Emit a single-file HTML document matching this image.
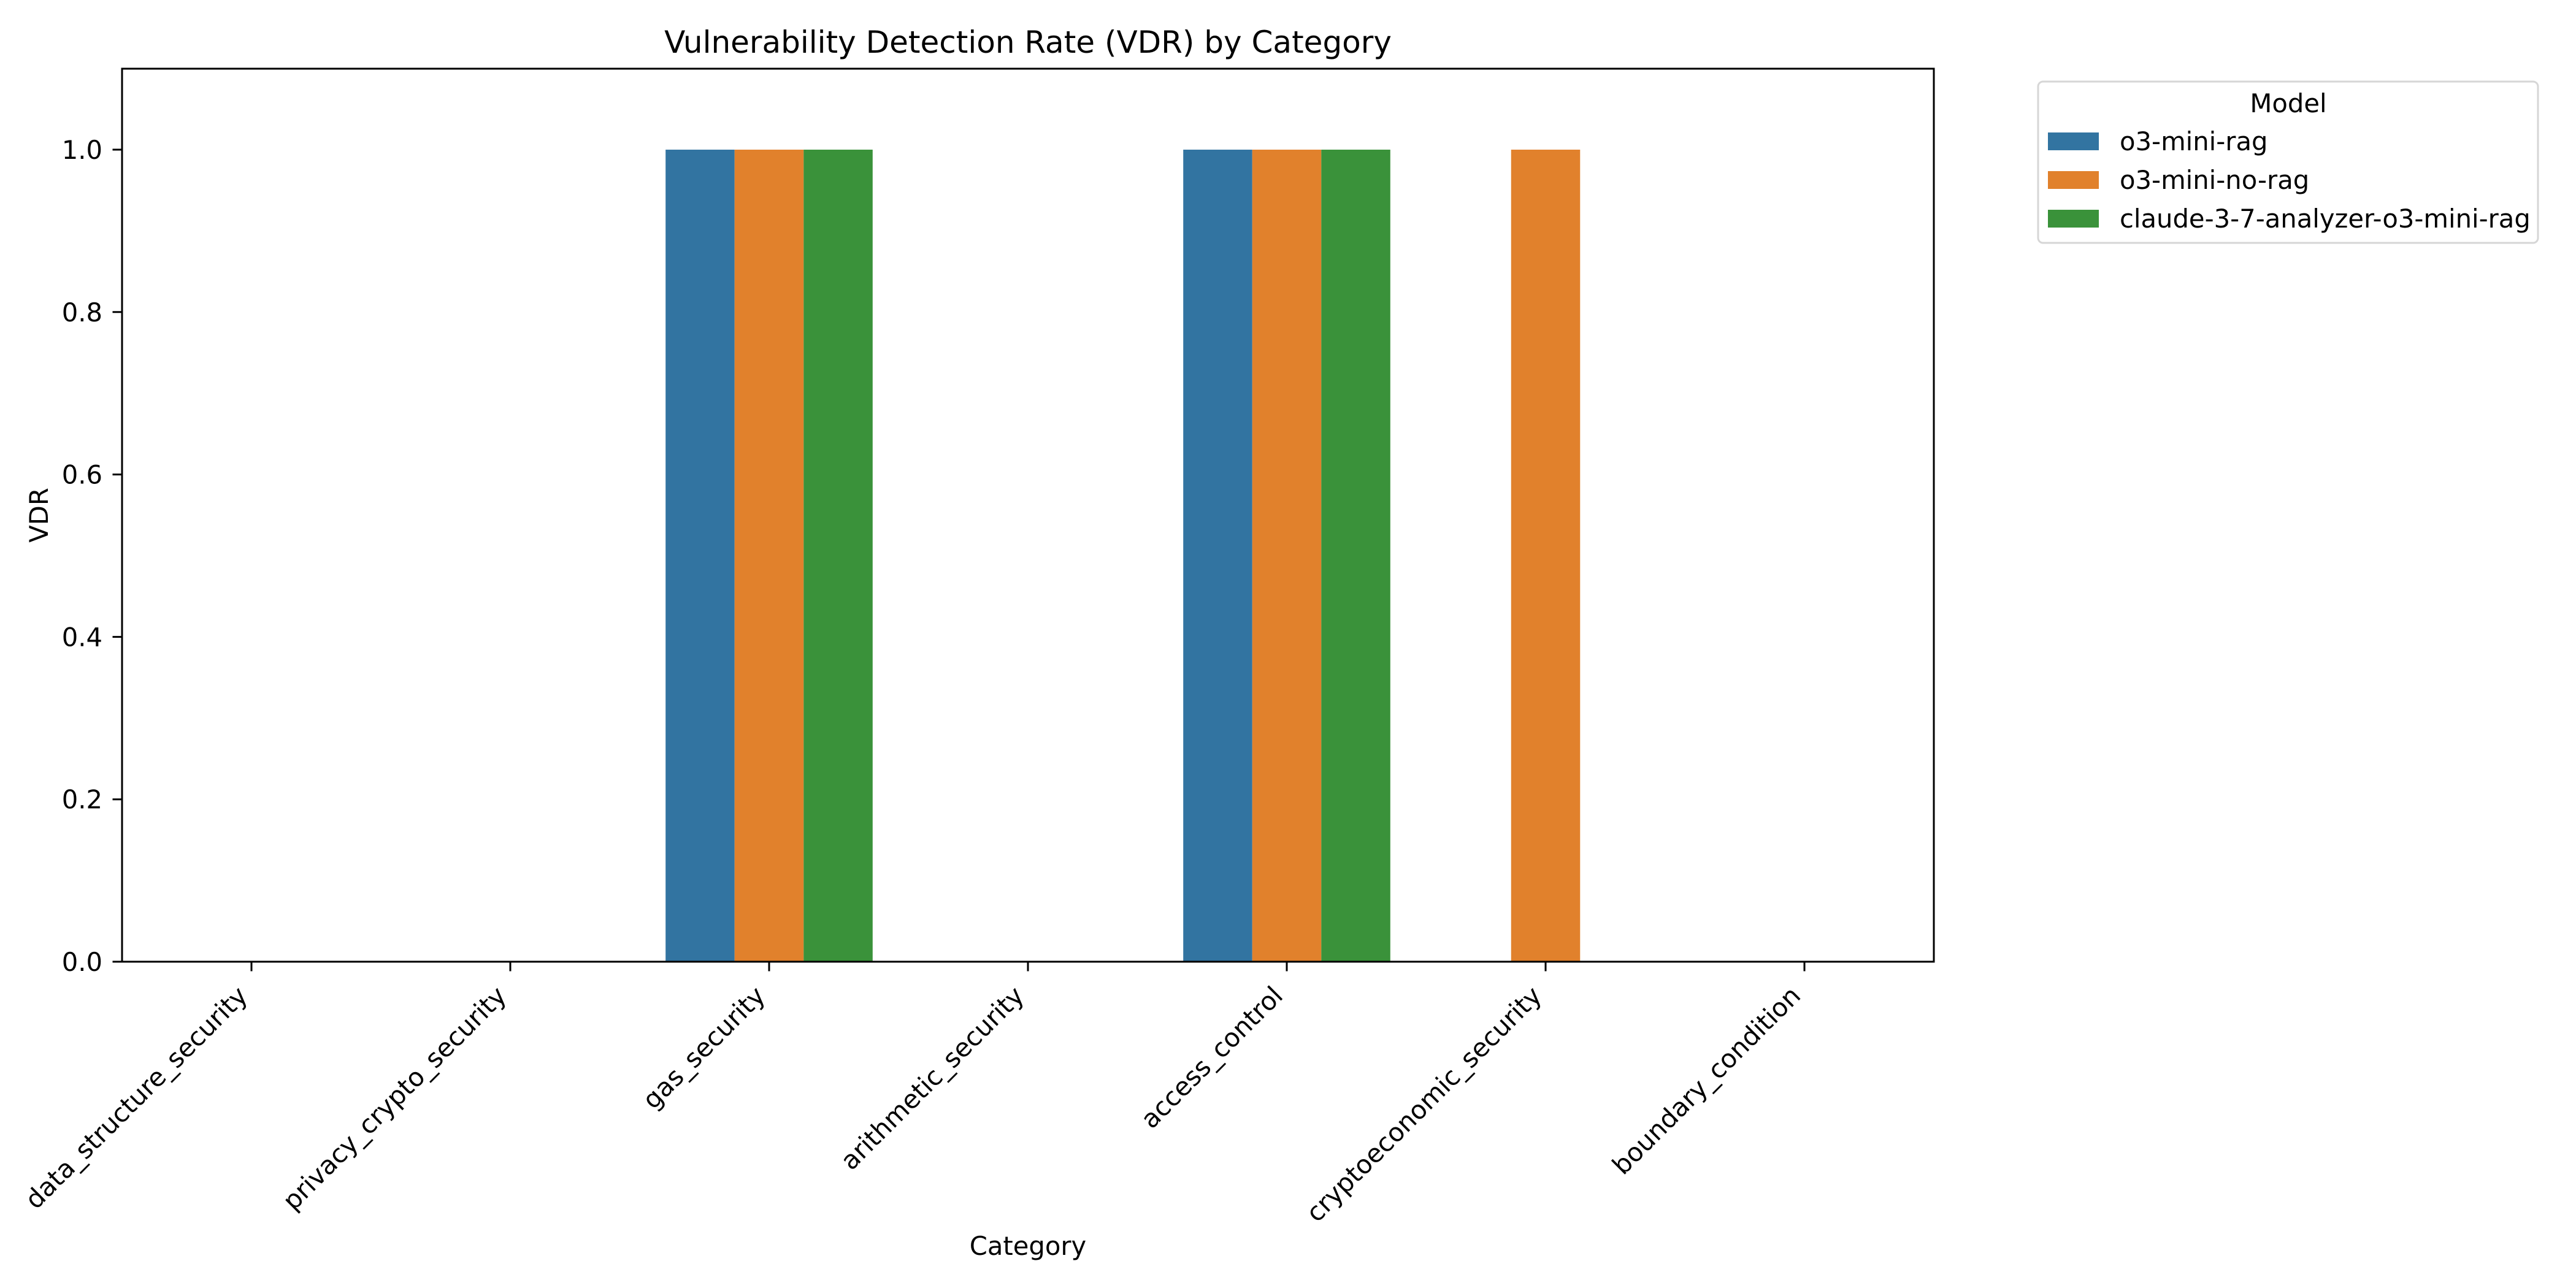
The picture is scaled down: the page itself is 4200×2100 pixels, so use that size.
<!DOCTYPE html>
<html><head><meta charset="utf-8"><style>
html,body{margin:0;padding:0;background:#fff;}
svg{display:block;font-family:"DejaVu Sans","Liberation Sans",sans-serif;}
</style></head><body>
<svg id="chart" width="4200" height="2100" viewBox="0 0 4200 2100" xmlns="http://www.w3.org/2000/svg">
<rect width="4200" height="2100" fill="#fff"/>
<text x="1676" y="86" font-size="50" text-anchor="middle">Vulnerability Detection Rate (VDR) by Category</text>
<g id="bars"></g>
<g id="axes"></g>
<text x="1676" y="2046" font-size="41.7" text-anchor="middle">Category</text>
<text transform="translate(78,840) rotate(-90)" font-size="41.7" text-anchor="middle">VDR</text>
<g>
<rect x="3323" y="133" width="815" height="263" rx="8" fill="#fff" stroke="#d6d6d6" stroke-width="3"/>
<text x="3731" y="183" font-size="41.7" text-anchor="middle">Model</text>
<g id="legend-items"></g>
</g>
</svg>
<script>
const categories = ["data_structure_security","privacy_crypto_security","gas_security","arithmetic_security","access_control","cryptoeconomic_security","boundary_condition"];
const seriesNames = ["o3-mini-rag","o3-mini-no-rag","claude-3-7-analyzer-o3-mini-rag"];
const ragValues = [0,0,1,0,1,0,0];
const noRagValues = [0,0,1,0,1,1,0];
const claudeValues = [0,0,1,0,1,0,0];
const yTicks = [0.0,0.2,0.4,0.6,0.8,1.0];
const yTickLabels = ["0.0","0.2","0.4","0.6","0.8","1.0"];

const colors = ["#3274a1","#e1812c","#3a923a"];
const series = [ragValues, noRagValues, claudeValues];
const NS = "http://www.w3.org/2000/svg";
const L = 199, R = 3153, T = 112, B = 1568;
const band = (R - L) / categories.length;
function xScale(i){ return L + band * (i + 0.5); }
function yScale(v){ return 1568 - v * 1324; }
const groupW = band * 0.8, barW = groupW / series.length;

const barsG = document.getElementById('bars');
series.forEach((vals, s) => {
  vals.forEach((v, i) => {
    if (v <= 0) return;
    const r = document.createElementNS(NS, 'rect');
    const x = xScale(i) - groupW / 2 + s * barW;
    r.setAttribute('x', x);
    r.setAttribute('y', yScale(v));
    r.setAttribute('width', barW);
    r.setAttribute('height', yScale(0) - yScale(v));
    r.setAttribute('fill', colors[s]);
    
    
    barsG.appendChild(r);
  });
});

const axesG = document.getElementById('axes');
function line(x1,y1,x2,y2,name){
  const l = document.createElementNS(NS,'line');
  l.setAttribute('x1',x1);l.setAttribute('y1',y1);l.setAttribute('x2',x2);l.setAttribute('y2',y2);
  l.setAttribute('stroke','#000');l.setAttribute('stroke-width','3');l.setAttribute('stroke-linecap','square');
  
  
  axesG.appendChild(l);
}
line(L,T,R,T,'axes-frame-top');
line(L,B,R,B,'x-axis-line');
line(L,T,L,B,'y-axis-line');
line(R,T,R,B,'axes-frame-right');
yTicks.forEach((v, k) => {
  const y = yScale(v);
  line(185, y, L, y, 'y-tick');
  const t = document.createElementNS(NS,'text');
  t.setAttribute('x', 167); t.setAttribute('y', y + 15);
  t.setAttribute('font-size','41.7'); t.setAttribute('text-anchor','end');
  t.textContent = yTickLabels[k];
  
  
  axesG.appendChild(t);
});
categories.forEach((c, i) => {
  const x = xScale(i);
  line(x, B, x, B + 14, 'x-tick');
  const t = document.createElementNS(NS,'text');
  t.setAttribute('transform', 'translate(' + (x - 4) + ',1626) rotate(-45)');
  t.setAttribute('font-size','41.7'); t.setAttribute('text-anchor','end');
  t.textContent = c;
  
  
  axesG.appendChild(t);
});

const legG = document.getElementById('legend-items');
seriesNames.forEach((n, s) => {
  const y = 216 + s * 63;
  const r = document.createElementNS(NS,'rect');
  r.setAttribute('x',3339); r.setAttribute('y',y); r.setAttribute('width',83); r.setAttribute('height',29);
  r.setAttribute('fill', colors[s]);
  
  
  legG.appendChild(r);
  const t = document.createElementNS(NS,'text');
  t.setAttribute('x',3456); t.setAttribute('y', y + 29);
  t.setAttribute('font-size','41.7');
  t.textContent = n;
  
  
  legG.appendChild(t);
});
</script>
</body></html>
